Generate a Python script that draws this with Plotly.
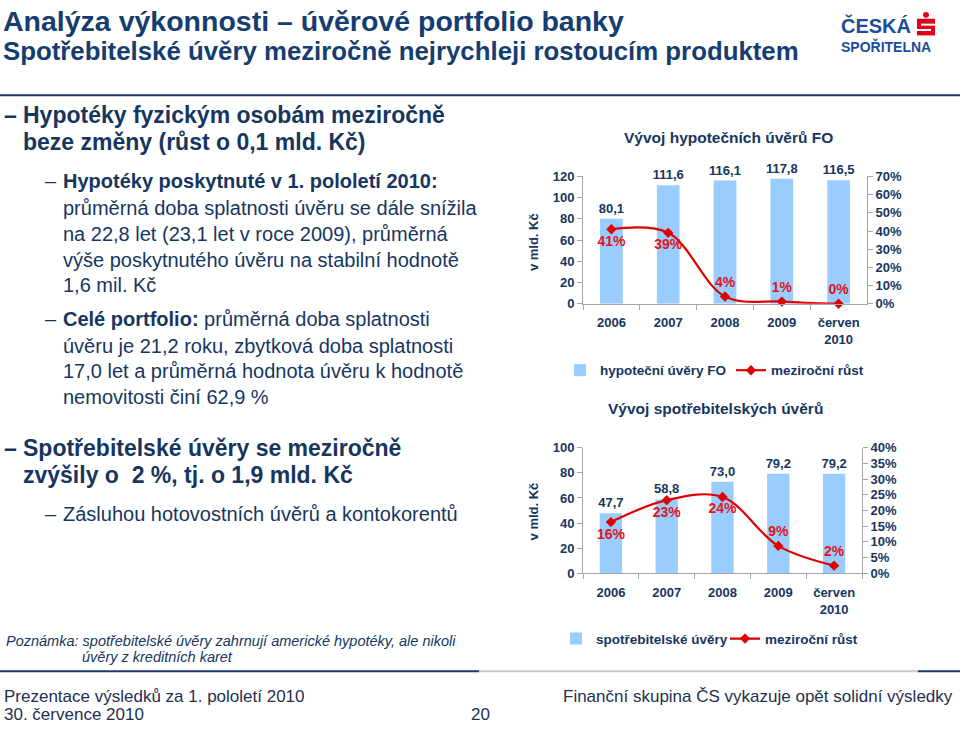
import plotly.graph_objects as go

# ---------------- data ----------------
categories = ["2006", "2007", "2008", "2009", "červen<br>2010"]
mortgage_volume = [80.1, 111.6, 116.1, 117.8, 116.5]          # mld. Kč
mortgage_growth = [0.41, 0.39, 0.04, 0.012, 0.0]             # meziroční růst
consumer_volume = [47.7, 58.8, 73.0, 79.2, 79.2]             # mld. Kč
consumer_growth = [0.163, 0.233, 0.243, 0.087, 0.024]        # meziroční růst

mortgage_growth_pos = ["bottom center", "bottom center", "top center", "top center", "top center"]
consumer_growth_pos = ["bottom center", "bottom center", "bottom center", "top center", "top center"]

# ---------------- styling ----------------
W, H = 960, 733
FONT = "Liberation Sans"
NAVY = "#16365f"
TITLE = "#153d70"
BAR = "#99ccff"
RED = "#e00000"
RED_TXT = "#e3131b"
GREY = "#a6a6a6"


def X(px):
    return px / W


def Y(py):
    return 1 - py / H


def fmt_num(v):
    return f"{v:.1f}".replace(".", ",")


fig = go.Figure()

fig.add_trace(go.Bar(
    x=categories, y=mortgage_volume, xaxis="x", yaxis="y",
    name="hypoteční úvěry FO", legend="legend", showlegend=True,
    marker=dict(color=BAR, line=dict(width=0)), width=0.4,
    text=[fmt_num(v) for v in mortgage_volume], textposition="outside",
    constraintext="none",
    textfont=dict(family=FONT, size=13, color=NAVY, weight="bold"),
    cliponaxis=False, hoverinfo="skip"))

fig.add_trace(go.Scatter(
    x=categories, y=mortgage_growth, xaxis="x", yaxis="y2",
    name="meziroční růst", legend="legend2", showlegend=True,
    mode="lines+markers+text",
    line=dict(color=RED, width=2.2, shape="spline", smoothing=1),
    marker=dict(symbol="diamond", size=8, color=RED),
    text=[f"{v:.0%}" for v in mortgage_growth], textposition=mortgage_growth_pos,
    textfont=dict(family=FONT, size=14, color=RED_TXT, weight="bold"),
    cliponaxis=False, hoverinfo="skip"))

fig.add_trace(go.Bar(
    x=categories, y=consumer_volume, xaxis="x2", yaxis="y3",
    name="spotřebitelské úvěry", legend="legend3", showlegend=True,
    marker=dict(color=BAR, line=dict(width=0)), width=0.4,
    text=[fmt_num(v) for v in consumer_volume], textposition="outside",
    constraintext="none",
    textfont=dict(family=FONT, size=13, color=NAVY, weight="bold"),
    cliponaxis=False, hoverinfo="skip"))

fig.add_trace(go.Scatter(
    x=categories, y=consumer_growth, xaxis="x2", yaxis="y4",
    name="meziroční růst", legend="legend4", showlegend=True,
    mode="lines+markers+text",
    line=dict(color=RED, width=2.2, shape="spline", smoothing=1),
    marker=dict(symbol="diamond", size=8, color=RED),
    text=[f"{v:.0%}" for v in consumer_growth], textposition=consumer_growth_pos,
    textfont=dict(family=FONT, size=14, color=RED_TXT, weight="bold"),
    cliponaxis=False, hoverinfo="skip"))

tickfont = dict(family=FONT, size=13, color=NAVY, weight="bold")
common_x = dict(showline=True, linecolor=GREY, linewidth=1, ticks="outside",
                tickson="boundaries", ticklen=5, tickcolor=GREY, showgrid=False,
                tickfont=tickfont, ticklabelstandoff=7, fixedrange=True)
common_y = dict(showline=True, linecolor=GREY, linewidth=1, ticks="outside",
                ticklen=5, tickcolor=GREY, showgrid=False, zeroline=False,
                tickfont=tickfont, fixedrange=True)

legend_common = dict(orientation="h", bgcolor="rgba(0,0,0,0)", borderwidth=0,
                     font=dict(family=FONT, size=13.5, color=NAVY, weight="bold"),
                     xanchor="left", yanchor="middle", itemclick=False)

fig.update_layout(
    width=W, height=H, autosize=False,
    margin=dict(l=0, r=0, t=0, b=0),
    paper_bgcolor="white", plot_bgcolor="white",
    showlegend=True,
    xaxis=dict(domain=[X(583), X(867)], anchor="y", **common_x),
    yaxis=dict(domain=[Y(303), Y(173)], anchor="x", range=[0, 120], dtick=20, **common_y),
    yaxis2=dict(overlaying="y", side="right", anchor="x", range=[0, 0.7], dtick=0.1,
                tickformat=".0%", **common_y),
    xaxis2=dict(domain=[X(583), X(862)], anchor="y3", **common_x),
    yaxis3=dict(domain=[Y(578), Y(450)], anchor="x2", range=[0, 100], dtick=20, **common_y),
    yaxis4=dict(overlaying="y3", side="right", anchor="x2", range=[0, 0.4], dtick=0.05,
                tickformat=".0%", **common_y),
    legend=dict(x=X(560), y=Y(371), **legend_common),
    legend2=dict(x=X(731), y=Y(371), **legend_common),
    legend3=dict(x=X(556), y=Y(645), **legend_common),
    legend4=dict(x=X(725), y=Y(645), **legend_common),
)

annotations = []


def txt(text, px, py, size, color=NAVY, bold=False, italic=False, xanchor="left", angle=0):
    t = text
    if bold:
        t = f"<b>{t}</b>"
    if italic:
        t = f"<i>{t}</i>"
    annotations.append(dict(text=t, x=X(px), y=Y(py), xref="paper", yref="paper",
                            xanchor=xanchor, yanchor="middle", showarrow=False,
                            textangle=angle,
                            font=dict(family=FONT, size=size, color=color)))


# Titles
txt("Analýza výkonnosti – úvěrové portfolio banky", 1, 14, 28.5, TITLE, bold=True)
txt("Spotřebitelské úvěry meziročně nejrychleji rostoucím produktem", 1, 45, 25.8, TITLE, bold=True)

# Logo text
txt("ČESKÁ", 839, 19, 20, "#1b4d9b", bold=True)
txt("SPOŘITELNA", 839, 40, 14, "#1b4d9b", bold=True)

# Left bullets
txt("–", 2, 110, 23, NAVY, bold=True)
txt("Hypotéky fyzickým osobám meziročně", 21, 110, 23, NAVY, bold=True)
txt("beze změny (růst o 0,1 mld. Kč)", 21, 138, 23, NAVY, bold=True)

txt("–", 43, 178, 20, NAVY)
txt("Hypotéky poskytnuté v 1. pololetí 2010:", 61, 178, 20, NAVY, bold=True)
txt("průměrná doba splatnosti úvěru se dále snížila", 61, 205, 20, NAVY)
txt("na 22,8 let (23,1 let v roce 2009), průměrná", 61, 232, 20, NAVY)
txt("výše poskytnutého úvěru na stabilní hodnotě", 61, 258, 20, NAVY)
txt("1,6 mil. Kč", 61, 284, 20, NAVY)

txt("–", 43, 319, 20, NAVY)
txt("<b>Celé portfolio:</b> průměrná doba splatnosti", 61, 319, 20, NAVY)
txt("úvěru je 21,2 roku, zbytková doba splatnosti", 61, 346, 20, NAVY)
txt("17,0 let a průměrná hodnota úvěru k hodnotě", 61, 372, 20, NAVY)
txt("nemovitosti činí 62,9 %", 61, 398, 20, NAVY)

txt("–", 2, 450, 23, NAVY, bold=True)
txt("Spotřebitelské úvěry se meziročně", 21, 450, 23, NAVY, bold=True)
txt("zvýšily o  2 %, tj. o 1,9 mld. Kč", 21, 478, 23, NAVY, bold=True)

txt("–", 43, 518, 20, NAVY)
txt("Zásluhou hotovostních úvěrů a kontokorentů", 61, 518, 20, NAVY)

# Note
txt("Poznámka: spotřebitelské úvěry zahrnují americké hypotéky, ale nikoli", 4, 647, 14.5, NAVY, italic=True)
txt("úvěry z kreditních karet", 80, 664, 14.5, NAVY, italic=True)

# Footer
txt("Prezentace výsledků za 1. pololetí 2010", 2, 704, 17, "#1f2f4f")
txt("30. července 2010", 2, 722, 17, "#1f2f4f")
txt("20", 480, 722, 17, "#1f2f4f", xanchor="center")
txt("Finanční skupina ČS vykazuje opět solidní výsledky", 955, 704, 17, "#1f2f4f", xanchor="right")

# Chart titles and axis titles
txt("Vývoj hypotečních úvěrů FO", 728, 133, 15.5, NAVY, bold=True, xanchor="center")
txt("Vývoj spotřebitelských úvěrů", 715, 410, 15.5, NAVY, bold=True, xanchor="center")
txt("v mld. Kč", 533, 240, 13, NAVY, bold=True, xanchor="center", angle=-90)
txt("v mld. Kč", 533, 515, 13, NAVY, bold=True, xanchor="center", angle=-90)

fig.update_layout(annotations=annotations)

# Decorative shapes (slide rules and logo mark)
shapes = [
    dict(type="line", xref="paper", yref="paper", x0=0, x1=1, y0=Y(90), y1=Y(90),
         line=dict(color="#1f3864", width=2)),
    dict(type="line", xref="paper", yref="paper", x0=0, x1=X(479), y0=Y(678), y1=Y(678),
         line=dict(color="#1f3864", width=2)),
    dict(type="line", xref="paper", yref="paper", x0=X(479), x1=X(918), y0=Y(678), y1=Y(678),
         line=dict(color="#c8c8c8", width=2)),
    dict(type="line", xref="paper", yref="paper", x0=X(918), x1=1, y0=Y(678), y1=Y(678),
         line=dict(color="#1f3864", width=2)),
    # logo mark
    dict(type="circle", xref="paper", yref="paper", x0=X(923), x1=X(929), y0=Y(11), y1=Y(5),
         fillcolor="#e2001a", line=dict(width=0)),
    dict(type="rect", xref="paper", yref="paper", x0=X(917), x1=X(935), y0=Y(29), y1=Y(12),
         fillcolor="#e2001a", line=dict(width=0)),
    dict(type="line", xref="paper", yref="paper", x0=X(921), x1=X(935), y0=Y(18), y1=Y(18),
         line=dict(color="white", width=2)),
    dict(type="line", xref="paper", yref="paper", x0=X(917), x1=X(931), y0=Y(23.5), y1=Y(23.5),
         line=dict(color="white", width=2)),
]
fig.update_layout(shapes=shapes)

fig.write_html("out.html",
               config={"displayModeBar": False},
               post_script="document.body.style.margin='0';document.body.style.overflow='hidden';")
